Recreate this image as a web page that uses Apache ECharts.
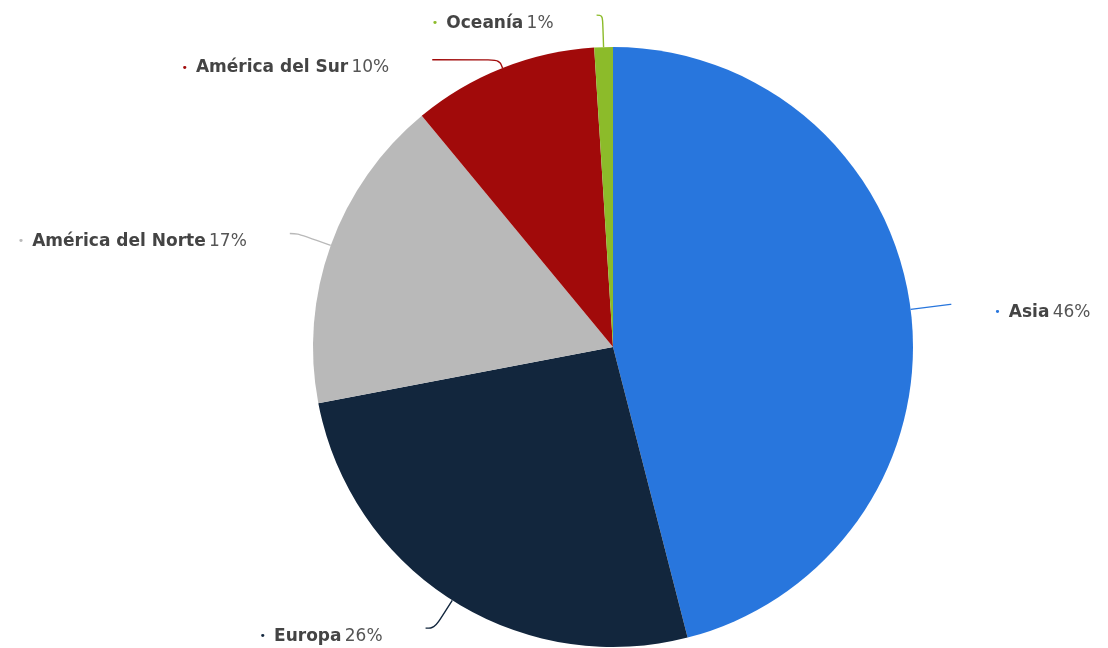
<!DOCTYPE html>
<html>
<head>
<meta charset="utf-8">
<script src="https://cdn.jsdelivr.net/npm/echarts@6/dist/echarts.min.js"></script>
<style>
  html, body { margin: 0; padding: 0; background: #ffffff; }
  #chart { width: 1108px; height: 648px; }
</style>
</head>
<body>
<div id="chart"></div>
<script>
// Share by region (%)
const regions = ['Asia', 'Europa', 'América del Norte', 'América del Sur', 'Oceanía'];
const shares = [46, 26, 17, 10, 1];
const colors = ['#2876dd', '#12263d', '#b9b9b9', '#a10a0a', '#8cbb2a'];

// Connector lengths per slice: radial part, then horizontal part
const lineRadial = [40, 33, 35, 9, 32];
const lineFlat = [1, 9, 8, 67, 6];

const FONT = 'DejaVu Sans';

const chart = echarts.init(document.getElementById('chart'), null, { renderer: 'canvas' });

const data = regions.map((name, i) => ({
  name: name,
  value: shares[i],
  itemStyle: { color: colors[i] },
  labelLine: { length: lineRadial[i], length2: lineFlat[i], lineStyle: { color: colors[i] } },
  label: {
    rich: {
      dot: { color: colors[i], fontSize: 11, fontFamily: FONT, padding: [0, 8, 0, 0] }
    }
  }
}));

chart.setOption({
  animation: false,
  series: [{
    type: 'pie',
    center: [613, 347],
    radius: [0, 300],
    startAngle: 90,
    clockwise: true,
    avoidLabelOverlap: false,
    data: data,
    itemStyle: { borderWidth: 0 },
    label: {
      show: true,
      position: 'outside',
      distanceToLabelLine: 43,
      padding: [16, 0, 0, 0],
      formatter: p => '{dot|•}{n|' + p.name + '} {v|' + p.value + '%}',
      rich: {
        n: { fontFamily: FONT, fontSize: 17, fontWeight: 'bold', color: '#444444' },
        v: { fontFamily: FONT, fontSize: 17, color: '#555555' }
      }
    },
    labelLine: {
      show: true,
      smooth: 0.4,
      lineStyle: { width: 1.4 }
    },
    emphasis: { disabled: true }
  }]
});
</script>
</body>
</html>
